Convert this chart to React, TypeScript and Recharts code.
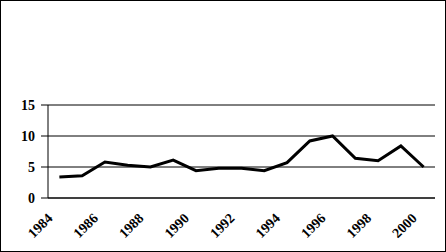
import { LineChart, Line, XAxis, YAxis, CartesianGrid } from "recharts";

const years = [
  1984, 1985, 1986, 1987, 1988, 1989, 1990, 1991, 1992, 1993, 1994, 1995, 1996,
  1997, 1998, 1999, 2000,
];
const values = [
  3.4, 3.6, 5.8, 5.3, 5.0, 6.1, 4.4, 4.8, 4.8, 4.4, 5.7, 9.2, 10.0, 6.4, 6.0,
  8.4, 5.0,
];
const yTicks = [0, 5, 10, 15];
const labelYears = [1984, 1986, 1988, 1990, 1992, 1994, 1996, 1998, 2000];
// category boundaries, Excel puts the tick marks between categories
const boundaries = [
  1983.5, 1984.5, 1985.5, 1986.5, 1987.5, 1988.5, 1989.5, 1990.5, 1991.5,
  1992.5, 1993.5, 1994.5, 1995.5, 1996.5, 1997.5, 1998.5, 1999.5, 2000.5,
];

const data = years.map((y, i) => ({ year: y, value: values[i] }));

const tickFont = {
  fontFamily: "Liberation Serif",
  fontSize: 14,
  fontWeight: 700,
  fill: "#000",
};

// diagonal label drawn along a 45° path ending just left of the tick
function YearTick(props: any) {
  const { x, y, payload } = props;
  const ex = x - 6;
  const ey = y + 13;
  const id = `yr-${payload.value}`;
  return (
    <g>
      <defs>
        <path id={id} d={`M${ex - 70},${ey + 70} L${ex},${ey}`} />
      </defs>
      <text {...tickFont}>
        <textPath href={`#${id}`} startOffset="100%" textAnchor="end">
          {payload.value}
        </textPath>
      </text>
    </g>
  );
}

export default function App() {
  return (
    <div
      style={{
        position: "absolute",
        left: 0,
        top: 0,
        width: 446,
        height: 252,
        border: "1px solid #000",
        boxSizing: "border-box",
        background: "#fff",
      }}
    >
      <LineChart
        width={444}
        height={250}
        data={data}
        margin={{ top: 104, right: 10, bottom: 0, left: 0 }}
      >
        <CartesianGrid vertical={false} stroke="#000" xAxisId="b" />
        <XAxis
          xAxisId="b"
          dataKey="year"
          type="number"
          domain={[1983.5, 2000.5]}
          ticks={boundaries}
          tick={false}
          tickSize={5}
          height={8}
          axisLine={{ stroke: "#000" }}
          tickLine={{ stroke: "#000" }}
        />
        <XAxis
          xAxisId="l"
          dataKey="year"
          type="number"
          domain={[1983.5, 2000.5]}
          ticks={labelYears}
          interval={0}
          axisLine={false}
          tickLine={false}
          tickSize={0}
          tickMargin={0}
          height={45}
          tick={YearTick}
        />
        <YAxis
          domain={[0, 15]}
          ticks={yTicks}
          width={47}
          tickSize={7}
          tickMargin={6}
          axisLine={{ stroke: "#000" }}
          tickLine={{ stroke: "#000" }}
          tick={tickFont}
          interval={0}
        />
        <Line
          xAxisId="b"
          dataKey="value"
          stroke="#000"
          strokeWidth={3}
          dot={false}
          isAnimationActive={false}
        />
      </LineChart>
    </div>
  );
}
